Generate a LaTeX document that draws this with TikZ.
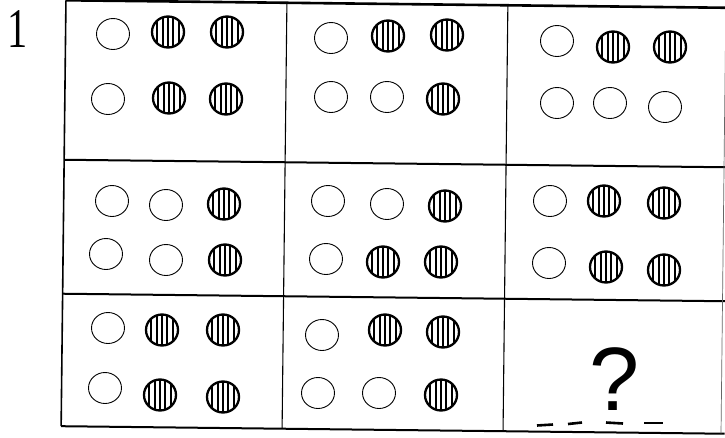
\documentclass[tikz,border=0pt]{standalone}
\usepackage{fontspec}
\newfontfamily\qfont{Liberation Sans}
\newfontfamily\nfont{Liberation Serif}
\usetikzlibrary{shapes.geometric}
\begin{document}
\begin{tikzpicture}[x=1pt,y=1pt,
  oc/.style={ellipse,draw,line width=0.9pt,minimum width=33pt,minimum height=31pt,inner sep=0pt},
  hc/.style={ellipse,draw,line width=2.3pt,minimum width=32pt,minimum height=31pt,inner sep=0pt,
    path picture={\foreach \k in {-2,...,2}{\draw[line width=2pt]
      ([xshift=\k*5.4pt]path picture bounding box.north) -- ([xshift=\k*5.4pt]path picture bounding box.south);}}},
  thick grid/.style={line width=2pt},
  thin grid/.style={line width=1.1pt},
  blank/.style={line width=2.6pt}]
\useasboundingbox (0,0) rectangle (725,-437);
\fill[white] (0,0) rectangle (725,-437);
% grid (slightly rotated like the scan)
\begin{scope}[rotate around={-0.65:(394,-218)}]
  \coordinate (tl) at (63.5,-4);
  \coordinate (tr) at (727,-4);
  \coordinate (bl) at (63.5,-430);
  \coordinate (br) at (727,-430);
  \coordinate (r1l) at (63.5,-163.5);
  \coordinate (r1r) at (727,-163.5);
  \coordinate (r2l) at (63.5,-297.5);
  \coordinate (r2r) at (727,-297.5);
  \coordinate (c1t) at (284.5,-4);
  \coordinate (c1b) at (284.5,-430);
  \coordinate (c2t) at (505.5,-4);
  \coordinate (c2b) at (505.5,-430);
  \coordinate (rt) at (723.5,-4);
  \coordinate (rb) at (723.5,-430);
  \draw[line width=2.6pt] (tl) -- (tr);
  \draw[line width=1.6pt] (tl) -- (bl);
  \draw[thick grid] (bl) -- (br);
  \draw[thick grid] (r1l) -- (r1r);
  \draw[thick grid] (r2l) -- (r2r);
  \draw[thin grid] (c1t) -- (c1b);
  \draw[thin grid] (c2t) -- (c2b);
  \draw[line width=0.7pt,black!60] (rt) -- (rb);
\end{scope}
% label
\node[anchor=base,inner sep=0pt] (num) at (17.5,-47) {\scalebox{0.72}[1]{\nfont\fontsize{56}{56}\selectfont 1}};
% row 1
\node[oc] (a1) at (113,-34) {};
\node[hc] (a2) at (168,-32) {};
\node[hc] (a3) at (227,-32) {};
\node[oc] (a4) at (108,-99) {};
\node[hc] (a5) at (169,-98) {};
\node[hc] (a6) at (226,-99) {};
\node[oc] (b1) at (331,-38) {};
\node[hc] (b2) at (388,-36) {};
\node[hc] (b3) at (447,-35) {};
\node[oc] (b4) at (331,-97) {};
\node[oc] (b5) at (387,-97) {};
\node[hc] (b6) at (443,-99) {};
\node[oc] (c1) at (557,-41) {};
\node[hc] (c2) at (613,-47) {};
\node[hc] (c3) at (670,-47) {};
\node[oc] (c4) at (557,-103) {};
\node[oc] (c5) at (610,-103) {};
\node[oc] (c6) at (665,-107) {};
% row 2
\node[oc] (d1) at (112,-201) {};
\node[oc] (d2) at (166,-205) {};
\node[hc] (d3) at (224,-204) {};
\node[oc] (d4) at (106,-254) {};
\node[oc] (d5) at (166,-260) {};
\node[hc] (d6) at (225,-260) {};
\node[oc] (e1) at (328,-201) {};
\node[oc] (e2) at (387,-204) {};
\node[hc] (e3) at (445,-206) {};
\node[oc] (e4) at (326,-259) {};
\node[hc] (e5) at (383,-262) {};
\node[hc] (e6) at (441,-262) {};
\node[oc] (f1) at (550,-201) {};
\node[hc] (f2) at (604,-201) {};
\node[hc] (f3) at (664,-203) {};
\node[oc] (f4) at (549,-263) {};
\node[hc] (f5) at (606,-267) {};
\node[hc] (f6) at (664,-270) {};
% row 3
\node[oc] (g1) at (108,-328) {};
\node[hc] (g2) at (162,-330) {};
\node[hc] (g3) at (223,-330) {};
\node[oc] (g4) at (105,-388) {};
\node[hc] (g5) at (160,-395) {};
\node[hc] (g6) at (223,-397) {};
\node[oc] (h1) at (322,-335) {};
\node[hc] (h2) at (385,-330) {};
\node[hc] (h3) at (443,-332) {};
\node[oc] (h4) at (318,-393) {};
\node[oc] (h5) at (379,-393) {};
\node[hc] (h6) at (441,-395) {};
% question
\node[anchor=base,inner sep=0pt] (q) at (615,-410) {\qfont\fontsize{90}{90}\selectfont ?};
\coordinate (d1a) at (537,-425.5); \coordinate (d1b) at (553,-424.5);
\coordinate (d2a) at (568,-424); \coordinate (d2b) at (582,-422.5);
\coordinate (d3a) at (606,-422.5); \coordinate (d3b) at (623,-423.5);
\coordinate (d4a) at (644,-423); \coordinate (d4b) at (663,-423);
\draw[blank] (d1a) -- (d1b);
\draw[blank] (d2a) -- (d2b);
\draw[blank] (d3a) -- (d3b);
\draw[blank] (d4a) -- (d4b);
\end{tikzpicture}
\end{document}
